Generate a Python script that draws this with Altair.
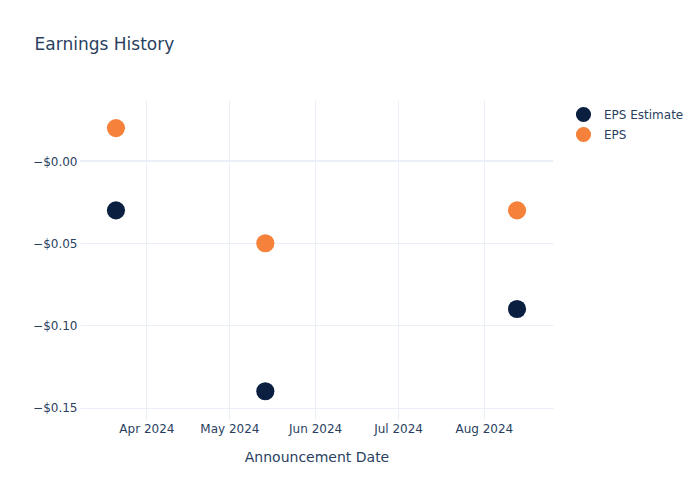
import altair as alt
import pandas as pd

dates = ["2024-03-21", "2024-05-14", "2024-08-13"]
eps_estimate = [-0.03, -0.14, -0.09]
eps_actual = [0.02, -0.05, -0.03]
series_names = ["EPS Estimate", "EPS"]
series_colors = ["#0B1F40", "#F5813A"]
y_ticks = [0.0, -0.05, -0.10, -0.15]
x_tick_months = [4, 5, 6, 7, 8]

rows = []
for d, v in zip(dates, eps_estimate):
    rows.append({"date": d, "value": v, "series": "EPS Estimate"})
for d, v in zip(dates, eps_actual):
    rows.append({"date": d, "value": v, "series": "EPS"})
df = pd.DataFrame(rows)

FONT = "DejaVu Sans"
TXT = "#2a3f5f"
GRID = "#EBF0F8"
Y_SCALE = alt.Scale(domain=[-0.1575, 0.0371], nice=False, zero=False)
Y_AXIS = alt.Axis(values=y_ticks, labelExpr="'−$' + format(abs(datum.value), '.2f')",
                  grid=True, gridColor=GRID, gridWidth=1, domain=False, ticks=False,
                  labelPadding=3, labelFont=FONT, labelFontSize=12, labelColor=TXT)

x_enc = alt.X(
    "date:T",
    title="Announcement Date",
    scale=alt.Scale(domain=[alt.DateTime(year=2024, month=3, date=8),
                            alt.DateTime(year=2024, month=8, date=26)], nice=False),
    axis=alt.Axis(format="%b %Y",
                  values=[alt.DateTime(year=2024, month=m, date=1) for m in x_tick_months],
                  grid=True, gridColor=GRID, gridWidth=1, domain=False, ticks=False,
                  labelPadding=3, labelFont=FONT, labelFontSize=12, labelColor=TXT,
                  titleFont=FONT, titleFontSize=14, titleColor=TXT, titleFontWeight="normal",
                  titlePadding=16, labelFlush=False),
)

points = alt.Chart(df).mark_circle(size=330, opacity=1).encode(
    x=x_enc,
    y=alt.Y("value:Q", title=None, scale=Y_SCALE, axis=Y_AXIS),
    color=alt.Color("series:N",
                    scale=alt.Scale(domain=series_names, range=series_colors),
                    legend=alt.Legend(title=None, orient="none", legendX=495, legendY=6,
                                      symbolSize=230, symbolType="circle",
                                      labelFont=FONT, labelFontSize=12, labelColor=TXT,
                                      rowPadding=3, symbolOffset=0, labelOffset=12)),
)

zero_rule = alt.Chart(pd.DataFrame({"z": [0.0]})).mark_rule(
    color=GRID, strokeWidth=2
).encode(y=alt.Y("z:Q", title=None, scale=Y_SCALE, axis=Y_AXIS))

chart = alt.layer(zero_rule, points).properties(
    width=473,
    height=320,
    autosize=alt.AutoSizeParams(type="none"),
    padding={"left": 80, "top": 100, "right": 147, "bottom": 80},
    title=alt.TitleParams("Earnings History", anchor="start", dx=2, offset=46,
                          font=FONT, fontSize=17, color=TXT, fontWeight="normal"),
).configure(background="white").configure_view(
    strokeWidth=0, stroke=None
).configure_axis(domain=False, ticks=False)

chart.save("out.html", embed_options={"renderer": "svg", "actions": False})
